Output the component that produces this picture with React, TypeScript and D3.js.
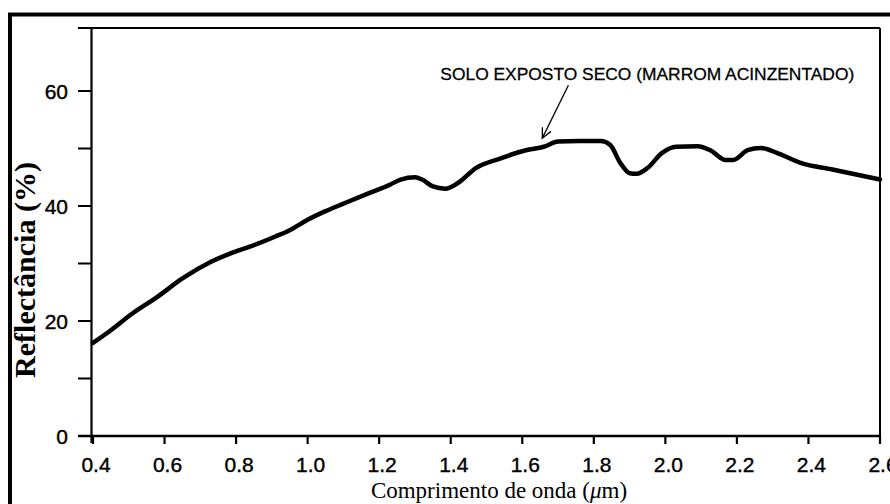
import React from 'react';
import * as d3 from 'd3';

const wavelengths = [0.4, 0.45, 0.51, 0.58, 0.65, 0.73, 0.79, 0.85, 0.91, 0.95, 1.0, 1.05, 1.1, 1.17, 1.23, 1.26, 1.3, 1.32, 1.35, 1.385, 1.42, 1.47, 1.54, 1.61, 1.66, 1.7, 1.76, 1.82, 1.846, 1.874, 1.9, 1.92, 1.95, 1.99, 2.03, 2.09, 2.126, 2.168, 2.19, 2.23, 2.266, 2.313, 2.378, 2.47, 2.6];
const reflectance = [16.2, 18.4, 21.3, 24.2, 27.4, 30.3, 31.9, 33.2, 34.7, 35.8, 37.6, 39.1, 40.4, 42.2, 43.7, 44.6, 45.0, 44.6, 43.4, 43.0, 44.0, 46.6, 48.3, 49.7, 50.3, 51.2, 51.3, 51.3, 50.6, 47.5, 45.7, 45.6, 46.6, 49.2, 50.3, 50.4, 49.7, 48.0, 48.0, 49.7, 50.1, 49.2, 47.5, 46.3, 44.6];

const xTicks = [0.4, 0.6, 0.8, 1.0, 1.2, 1.4, 1.6, 1.8, 2.0, 2.2, 2.4, 2.6];
const xTickLabels = ['0.4', '0.6', '0.8', '1.0', '1.2', '1.4', '1.6', '1.8', '2.0', '2.2', '2.4', '2.6'];
const yMajorTicks = [0, 20, 40, 60];
const yMinorTicks = [10, 30, 50];

const annotationText = 'SOLO EXPOSTO SECO (MARROM ACINZENTADO)';
const annotationTextPos = [1.371, 61.9];
const arrowFrom = [1.729, 61.0];
const arrowTo = [1.656, 51.8];

const xTitle = 'Comprimento de onda (';
const yTitle = 'Reflectância (%)';

export default function App() {
  const x = d3.scaleLinear().domain([0.4, 2.6]).range([93, 880]);
  const y = d3.scaleLinear().domain([0, 60]).range([436, 91]);
  const top = 28;
  const axisLeft = 91.5;
  const bottom = 436;
  const right = 880;

  const data = wavelengths.map((w, i) => [w, reflectance[i]] as [number, number]);
  const line = d3
    .line<[number, number]>()
    .x((d) => x(d[0]))
    .y((d) => y(d[1]))
    .curve(d3.curveMonotoneX);

  const ax1 = x(arrowFrom[0]);
  const ay1 = y(arrowFrom[1]);
  const ax2 = x(arrowTo[0]);
  const ay2 = y(arrowTo[1]);
  const ang = Math.atan2(ay2 - ay1, ax2 - ax1);
  const hl = 11;
  const spread = 0.45;
  const h1 = [ax2 - hl * Math.cos(ang - spread), ay2 - hl * Math.sin(ang - spread)];
  const h2 = [ax2 - hl * Math.cos(ang + spread), ay2 - hl * Math.sin(ang + spread)];

  const sans = '"Liberation Sans", Arial, sans-serif';
  const serif = '"Liberation Serif", "Times New Roman", serif';

  return (
    <svg
      width={890}
      height={504}
      style={{ position: 'absolute', left: 0, top: 0, background: '#fff' }}
    >
      <rect x={0} y={0} width={890} height={504} fill="#fff" />
      {/* outer frame */}
      <rect x={10} y={14.5} width={1000} height={1000} fill="none" stroke="#000" strokeWidth={4} />

      {/* plot frame */}
      <line x1={78} x2={right} y1={top} y2={top} stroke="#000" strokeWidth={2} />
      <line x1={axisLeft} x2={axisLeft} y1={top} y2={bottom + 7} stroke="#000" strokeWidth={2.2} />
      <line x1={78} x2={right} y1={bottom} y2={bottom} stroke="#000" strokeWidth={2.4} />
      <line x1={right} x2={right} y1={top} y2={bottom + 8} stroke="#000" strokeWidth={2} />

      {/* y ticks */}
      {yMajorTicks.concat(yMinorTicks).map((t) => (
        <line key={'yt' + t} x1={78} x2={axisLeft} y1={y(t)} y2={y(t)} stroke="#000" strokeWidth={2} />
      ))}
      {yMajorTicks.map((t) => (
        <text
          key={'yl' + t}
          x={68}
          y={y(t)}
          dy="0.36em"
          textAnchor="end"
          fontFamily={sans}
          fontSize={21}
          fill="#000"
          stroke="#000"
          strokeWidth={0.4}
        >
          {t}
        </text>
      ))}

      {/* x ticks */}
      {xTicks.map((t, i) => (
        <g key={'xt' + t}>
          <line x1={x(t)} x2={x(t)} y1={bottom} y2={bottom + 8} stroke="#000" strokeWidth={2.2} />
          <text
            x={x(t) + 3}
            y={472}
            textAnchor="middle"
            fontFamily={sans}
            fontSize={21}
            fill="#000"
            stroke="#000"
            strokeWidth={0.4}
          >
            {xTickLabels[i]}
          </text>
        </g>
      ))}

      {/* curve */}
      <path d={line(data) || ''} fill="none" stroke="#000" strokeWidth={4.5} strokeLinejoin="round" strokeLinecap="round" />

      {/* annotation */}
      <text
        x={x(annotationTextPos[0])}
        y={y(annotationTextPos[1])}
        fontFamily={sans}
        fontSize={17.4}
        fill="#000"
        stroke="#000"
        strokeWidth={0.3}
      >
        {annotationText}
      </text>
      <line x1={ax1} y1={ay1} x2={ax2} y2={ay2} stroke="#000" strokeWidth={1.3} />
      <polyline
        points={`${h1[0]},${h1[1]} ${ax2},${ay2} ${h2[0]},${h2[1]}`}
        fill="none"
        stroke="#000"
        strokeWidth={1.3}
      />

      {/* axis titles */}
      <text x={499} y={498} textAnchor="middle" fontFamily={serif} fontSize={23} fill="#000">
        {xTitle}
        <tspan fontStyle="italic">μ</tspan>m)
      </text>
      <text
        transform={`translate(35,270) rotate(-90)`}
        textAnchor="middle"
        fontFamily={serif}
        fontWeight="bold"
        fontSize={30}
        fill="#000"
      >
        {yTitle}
      </text>
    </svg>
  );
}
